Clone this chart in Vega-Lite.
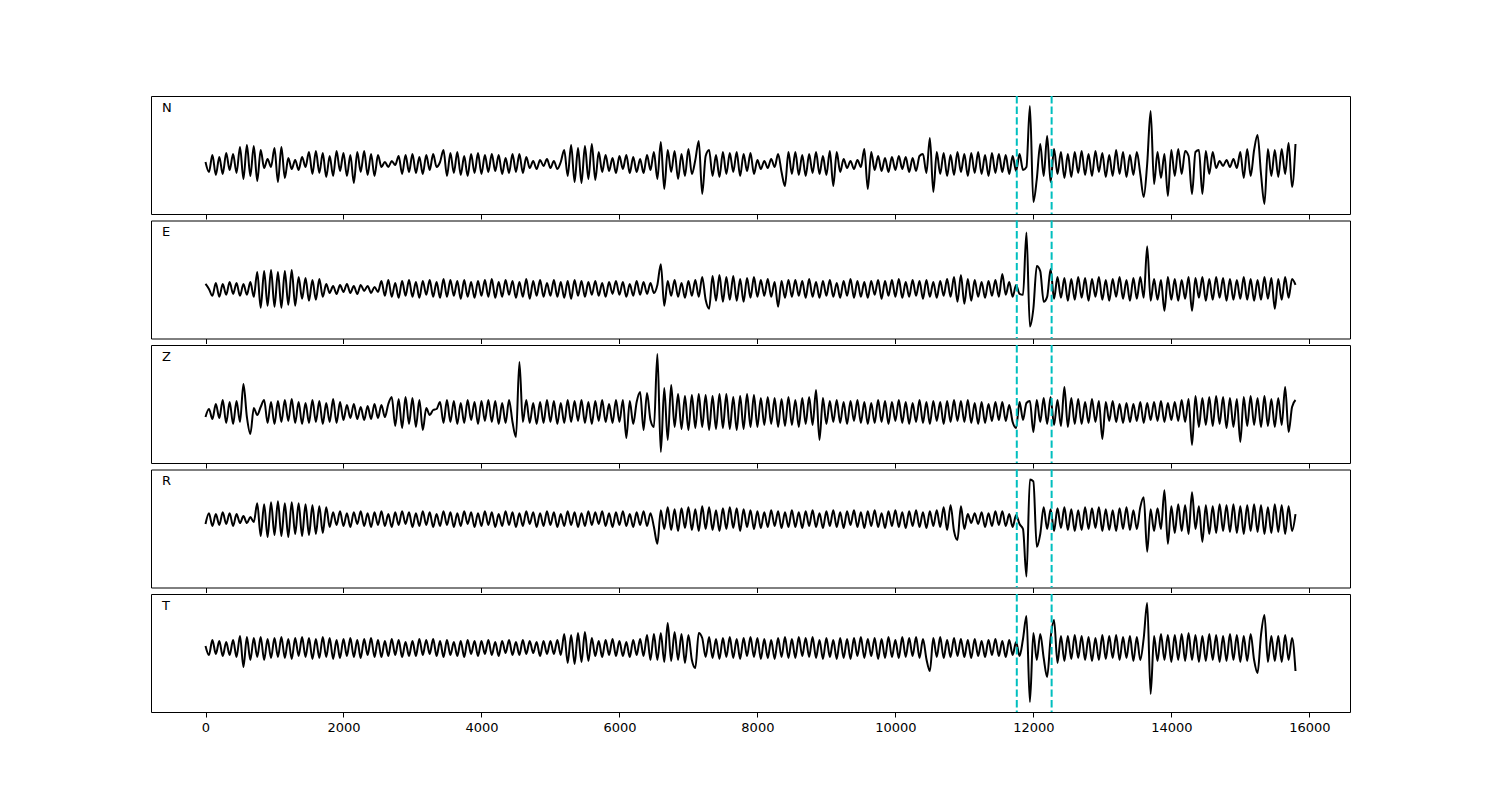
{
"$schema": "https://vega.github.io/schema/vega-lite/v6.json",
"padding": {"left": 150, "top": 94, "right": 0, "bottom": 0},
"background": "white",
"bounds": "flush",
"spacing": 6.5,
"config": {"font": "DejaVu Sans", "view": {"stroke": "black", "strokeWidth": 1}, "axis": {"grid": false, "domain": false}},
"datasets": {
"picks": [{"t": 11760}, {"t": 12265}],
"w": [
{"x":0,"N":2,"E":5,"Z":-5,"R":-5,"T":2},
{"x":50,"N":-8,"E":0,"Z":3,"R":6,"T":-7},
{"x":100,"N":9,"E":-7,"Z":-7,"R":-7,"T":8},
{"x":150,"N":-11,"E":6,"Z":8,"R":5,"T":-6},
{"x":200,"N":7,"E":-8,"Z":-6,"R":-6,"T":7},
{"x":250,"N":-10,"E":5,"Z":12,"R":7,"T":-8},
{"x":300,"N":11,"E":-6,"Z":-11,"R":-5,"T":6},
{"x":350,"N":-6,"E":7,"Z":10,"R":6,"T":-7},
{"x":400,"N":10,"E":-5,"Z":-12,"R":-7,"T":8},
{"x":450,"N":-9,"E":6,"Z":11,"R":5,"T":-9},
{"x":500,"N":17,"E":-7,"Z":-10,"R":-4,"T":12},
{"x":550,"N":-15,"E":5,"Z":28,"R":3,"T":-19},
{"x":600,"N":19,"E":-6,"Z":-5,"R":-4,"T":11},
{"x":650,"N":-12,"E":7,"Z":-22,"R":2,"T":-12},
{"x":700,"N":18,"E":-8,"Z":4,"R":-3,"T":10},
{"x":750,"N":-17,"E":17,"Z":-3,"R":16,"T":-9},
{"x":800,"N":14,"E":-19,"Z":5,"R":-17,"T":11},
{"x":850,"N":-4,"E":18,"Z":12,"R":15,"T":-12},
{"x":900,"N":5,"E":-17,"Z":-11,"R":-18,"T":9},
{"x":950,"N":-3,"E":19,"Z":10,"R":17,"T":-10},
{"x":1000,"N":16,"E":-18,"Z":-12,"R":-16,"T":10},
{"x":1050,"N":-18,"E":17,"Z":11,"R":18,"T":-9},
{"x":1100,"N":17,"E":-19,"Z":-10,"R":-17,"T":11},
{"x":1150,"N":-14,"E":18,"Z":12,"R":16,"T":-10},
{"x":1200,"N":6,"E":-16,"Z":-9,"R":-18,"T":9},
{"x":1250,"N":-5,"E":19,"Z":13,"R":17,"T":-11},
{"x":1300,"N":4,"E":-17,"Z":-11,"R":-15,"T":10},
{"x":1350,"N":-6,"E":12,"Z":10,"R":16,"T":-8},
{"x":1400,"N":7,"E":-10,"Z":-12,"R":-17,"T":11},
{"x":1450,"N":-3,"E":11,"Z":9,"R":15,"T":-9},
{"x":1500,"N":12,"E":-12,"Z":-11,"R":-16,"T":10},
{"x":1550,"N":-10,"E":9,"Z":12,"R":14,"T":-11},
{"x":1600,"N":13,"E":-11,"Z":-10,"R":-15,"T":9},
{"x":1650,"N":-9,"E":10,"Z":11,"R":13,"T":-10},
{"x":1700,"N":11,"E":-8,"Z":-12,"R":-14,"T":11},
{"x":1750,"N":-13,"E":5,"Z":9,"R":12,"T":-9},
{"x":1800,"N":8,"E":-4,"Z":-10,"R":-8,"T":10},
{"x":1850,"N":-12,"E":3,"Z":13,"R":7,"T":-11},
{"x":1900,"N":13,"E":-5,"Z":-11,"R":-6,"T":8},
{"x":1950,"N":-7,"E":4,"Z":10,"R":8,"T":-10},
{"x":2000,"N":11,"E":-3,"Z":-8,"R":-7,"T":9},
{"x":2050,"N":-12,"E":5,"Z":7,"R":6,"T":-8},
{"x":2100,"N":9,"E":-4,"Z":-6,"R":-8,"T":10},
{"x":2150,"N":-19,"E":3,"Z":8,"R":7,"T":-9},
{"x":2200,"N":12,"E":-5,"Z":-7,"R":-5,"T":8},
{"x":2250,"N":-8,"E":4,"Z":5,"R":8,"T":-10},
{"x":2300,"N":13,"E":-2,"Z":-8,"R":-7,"T":9},
{"x":2350,"N":-11,"E":3,"Z":6,"R":6,"T":-7},
{"x":2400,"N":10,"E":-4,"Z":-7,"R":-8,"T":10},
{"x":2450,"N":-12,"E":2,"Z":8,"R":7,"T":-9},
{"x":2500,"N":9,"E":-3,"Z":-6,"R":-6,"T":8},
{"x":2550,"N":-3,"E":8,"Z":7,"R":8,"T":-9},
{"x":2600,"N":2,"E":-7,"Z":-5,"R":-7,"T":7},
{"x":2650,"N":-3,"E":9,"Z":8,"R":5,"T":-8},
{"x":2700,"N":3,"E":-8,"Z":15,"R":-8,"T":9},
{"x":2750,"N":-1,"E":6,"Z":-14,"R":7,"T":-7},
{"x":2800,"N":8,"E":-9,"Z":13,"R":-6,"T":8},
{"x":2850,"N":-10,"E":8,"Z":-16,"R":8,"T":-9},
{"x":2900,"N":9,"E":-7,"Z":15,"R":-5,"T":6},
{"x":2950,"N":-8,"E":9,"Z":-12,"R":7,"T":-8},
{"x":3000,"N":10,"E":-8,"Z":14,"R":-8,"T":7},
{"x":3050,"N":-9,"E":7,"Z":-15,"R":6,"T":-8},
{"x":3100,"N":7,"E":-9,"Z":12,"R":-7,"T":9},
{"x":3150,"N":-10,"E":8,"Z":-18,"R":8,"T":-7},
{"x":3200,"N":9,"E":-6,"Z":4,"R":-6,"T":8},
{"x":3250,"N":-6,"E":9,"Z":-3,"R":7,"T":-6},
{"x":3300,"N":10,"E":-8,"Z":2,"R":-8,"T":9},
{"x":3350,"N":-3,"E":7,"Z":3,"R":5,"T":-8},
{"x":3400,"N":2,"E":-9,"Z":10,"R":-7,"T":7},
{"x":3450,"N":14,"E":10,"Z":-11,"R":8,"T":-9},
{"x":3500,"N":-12,"E":-8,"Z":12,"R":-6,"T":8},
{"x":3550,"N":11,"E":9,"Z":-10,"R":7,"T":-7},
{"x":3600,"N":-9,"E":-7,"Z":11,"R":-8,"T":6},
{"x":3650,"N":12,"E":8,"Z":-12,"R":6,"T":-8},
{"x":3700,"N":-11,"E":-10,"Z":9,"R":-7,"T":7},
{"x":3750,"N":8,"E":9,"Z":-11,"R":8,"T":-9},
{"x":3800,"N":-12,"E":-8,"Z":12,"R":-5,"T":8},
{"x":3850,"N":10,"E":7,"Z":-8,"R":7,"T":-6},
{"x":3900,"N":-9,"E":-9,"Z":10,"R":-8,"T":7},
{"x":3950,"N":11,"E":8,"Z":-12,"R":6,"T":-8},
{"x":4000,"N":-10,"E":-7,"Z":11,"R":-7,"T":7},
{"x":4050,"N":9,"E":9,"Z":-9,"R":8,"T":-6},
{"x":4100,"N":-8,"E":-8,"Z":12,"R":-6,"T":8},
{"x":4150,"N":10,"E":10,"Z":-10,"R":7,"T":-7},
{"x":4200,"N":-7,"E":-9,"Z":11,"R":-8,"T":6},
{"x":4250,"N":9,"E":7,"Z":-12,"R":5,"T":-8},
{"x":4300,"N":-10,"E":-8,"Z":9,"R":-7,"T":7},
{"x":4350,"N":6,"E":9,"Z":-11,"R":8,"T":-5},
{"x":4400,"N":-9,"E":-6,"Z":12,"R":-6,"T":8},
{"x":4450,"N":10,"E":8,"Z":-10,"R":7,"T":-7},
{"x":4500,"N":-8,"E":-9,"Z":-25,"R":-8,"T":6},
{"x":4550,"N":10,"E":7,"Z":50,"R":6,"T":-7},
{"x":4600,"N":-9,"E":-8,"Z":-10,"R":-7,"T":8},
{"x":4650,"N":7,"E":10,"Z":12,"R":8,"T":-6},
{"x":4700,"N":-4,"E":-10,"Z":-11,"R":-5,"T":7},
{"x":4750,"N":3,"E":8,"Z":9,"R":7,"T":-5},
{"x":4800,"N":-5,"E":-7,"Z":-12,"R":-8,"T":6},
{"x":4850,"N":4,"E":9,"Z":10,"R":6,"T":-8},
{"x":4900,"N":-2,"E":-8,"Z":-11,"R":-7,"T":7},
{"x":4950,"N":5,"E":6,"Z":12,"R":8,"T":-6},
{"x":5000,"N":-4,"E":-7,"Z":-10,"R":-6,"T":7},
{"x":5050,"N":3,"E":9,"Z":11,"R":7,"T":-6},
{"x":5100,"N":-5,"E":-8,"Z":-12,"R":-8,"T":8},
{"x":5150,"N":2,"E":7,"Z":9,"R":5,"T":-7},
{"x":5200,"N":14,"E":-9,"Z":-11,"R":-7,"T":14},
{"x":5250,"N":-12,"E":8,"Z":12,"R":8,"T":-15},
{"x":5300,"N":19,"E":-10,"Z":-10,"R":-6,"T":13},
{"x":5350,"N":-18,"E":9,"Z":11,"R":7,"T":-16},
{"x":5400,"N":16,"E":-7,"Z":-9,"R":-8,"T":15},
{"x":5450,"N":-19,"E":8,"Z":12,"R":6,"T":-14},
{"x":5500,"N":18,"E":-8,"Z":-11,"R":-7,"T":16},
{"x":5550,"N":-15,"E":7,"Z":10,"R":8,"T":-13},
{"x":5600,"N":20,"E":-6,"Z":-12,"R":-6,"T":10},
{"x":5650,"N":-16,"E":8,"Z":11,"R":7,"T":-8},
{"x":5700,"N":12,"E":-7,"Z":-9,"R":-5,"T":7},
{"x":5750,"N":-8,"E":6,"Z":12,"R":8,"T":-9},
{"x":5800,"N":9,"E":-8,"Z":-10,"R":-7,"T":8},
{"x":5850,"N":-7,"E":7,"Z":8,"R":6,"T":-7},
{"x":5900,"N":6,"E":-5,"Z":-11,"R":-8,"T":9},
{"x":5950,"N":-9,"E":8,"Z":12,"R":7,"T":-8},
{"x":6000,"N":8,"E":-6,"Z":-10,"R":-6,"T":7},
{"x":6050,"N":-5,"E":7,"Z":12,"R":8,"T":-8},
{"x":6100,"N":9,"E":-8,"Z":-26,"R":-7,"T":6},
{"x":6150,"N":-9,"E":5,"Z":11,"R":5,"T":-9},
{"x":6200,"N":7,"E":-7,"Z":-12,"R":-8,"T":8},
{"x":6250,"N":-8,"E":8,"Z":10,"R":7,"T":-7},
{"x":6300,"N":5,"E":-6,"Z":20,"R":-6,"T":9},
{"x":6350,"N":-9,"E":7,"Z":-18,"R":8,"T":-8},
{"x":6400,"N":9,"E":-5,"Z":19,"R":-7,"T":13},
{"x":6450,"N":-6,"E":6,"Z":-8,"R":6,"T":-12},
{"x":6500,"N":12,"E":-4,"Z":-15,"R":-8,"T":14},
{"x":6550,"N":-15,"E":4,"Z":58,"R":-25,"T":-12},
{"x":6600,"N":22,"E":25,"Z":-40,"R":9,"T":15},
{"x":6650,"N":-25,"E":-17,"Z":24,"R":-10,"T":-14},
{"x":6700,"N":14,"E":8,"Z":-28,"R":12,"T":25},
{"x":6750,"N":-8,"E":-7,"Z":27,"R":-11,"T":-13},
{"x":6800,"N":13,"E":9,"Z":-15,"R":10,"T":16},
{"x":6850,"N":-15,"E":-8,"Z":18,"R":-12,"T":-12},
{"x":6900,"N":10,"E":6,"Z":-17,"R":11,"T":14},
{"x":6950,"N":-12,"E":-9,"Z":16,"R":-9,"T":-15},
{"x":7000,"N":15,"E":8,"Z":-18,"R":12,"T":13},
{"x":7050,"N":-10,"E":-7,"Z":17,"R":-11,"T":-12},
{"x":7100,"N":4,"E":9,"Z":-16,"R":10,"T":-20},
{"x":7150,"N":23,"E":-8,"Z":18,"R":-12,"T":15},
{"x":7200,"N":-30,"E":12,"Z":-15,"R":13,"T":10},
{"x":7250,"N":8,"E":-11,"Z":17,"R":-10,"T":-9},
{"x":7300,"N":14,"E":-20,"Z":-18,"R":12,"T":11},
{"x":7350,"N":-12,"E":13,"Z":16,"R":-11,"T":-10},
{"x":7400,"N":9,"E":-12,"Z":-17,"R":9,"T":9},
{"x":7450,"N":-13,"E":14,"Z":18,"R":-12,"T":-11},
{"x":7500,"N":12,"E":-13,"Z":-16,"R":11,"T":10},
{"x":7550,"N":-10,"E":12,"Z":18,"R":-10,"T":-9},
{"x":7600,"N":11,"E":-11,"Z":-17,"R":12,"T":11},
{"x":7650,"N":-8,"E":13,"Z":15,"R":-9,"T":-10},
{"x":7700,"N":12,"E":-12,"Z":-18,"R":11,"T":9},
{"x":7750,"N":-12,"E":10,"Z":16,"R":-12,"T":-11},
{"x":7800,"N":10,"E":-13,"Z":-17,"R":10,"T":10},
{"x":7850,"N":-7,"E":11,"Z":18,"R":-8,"T":-8},
{"x":7900,"N":11,"E":-9,"Z":-15,"R":9,"T":11},
{"x":7950,"N":-10,"E":12,"Z":17,"R":-10,"T":-9},
{"x":8000,"N":4,"E":-8,"Z":-15,"R":8,"T":10},
{"x":8050,"N":-5,"E":9,"Z":14,"R":-9,"T":-11},
{"x":8100,"N":3,"E":-7,"Z":-13,"R":7,"T":9},
{"x":8150,"N":-4,"E":10,"Z":15,"R":-8,"T":-10},
{"x":8200,"N":5,"E":-8,"Z":-12,"R":9,"T":8},
{"x":8250,"N":-3,"E":7,"Z":14,"R":-7,"T":-11},
{"x":8300,"N":10,"E":-18,"Z":-15,"R":8,"T":10},
{"x":8350,"N":-8,"E":8,"Z":13,"R":-9,"T":-9},
{"x":8400,"N":-22,"E":-9,"Z":-14,"R":7,"T":11},
{"x":8450,"N":12,"E":9,"Z":15,"R":-8,"T":-10},
{"x":8500,"N":-10,"E":-8,"Z":-13,"R":9,"T":9},
{"x":8550,"N":12,"E":9,"Z":12,"R":-8,"T":-10},
{"x":8600,"N":-11,"E":-7,"Z":-15,"R":7,"T":11},
{"x":8650,"N":9,"E":8,"Z":14,"R":-9,"T":-8},
{"x":8700,"N":-12,"E":-9,"Z":-12,"R":8,"T":10},
{"x":8750,"N":10,"E":10,"Z":15,"R":-7,"T":-9},
{"x":8800,"N":-9,"E":-8,"Z":-13,"R":9,"T":11},
{"x":8850,"N":12,"E":7,"Z":22,"R":-8,"T":-10},
{"x":8900,"N":-10,"E":-9,"Z":-28,"R":6,"T":8},
{"x":8950,"N":8,"E":8,"Z":14,"R":-9,"T":-11},
{"x":9000,"N":-11,"E":-7,"Z":-12,"R":8,"T":10},
{"x":9050,"N":13,"E":9,"Z":11,"R":-7,"T":-9},
{"x":9100,"N":-22,"E":-8,"Z":-10,"R":9,"T":8},
{"x":9150,"N":12,"E":6,"Z":12,"R":-8,"T":-11},
{"x":9200,"N":-8,"E":-9,"Z":-11,"R":7,"T":10},
{"x":9250,"N":5,"E":8,"Z":10,"R":-9,"T":-10},
{"x":9300,"N":-4,"E":-7,"Z":-12,"R":8,"T":9},
{"x":9350,"N":3,"E":10,"Z":11,"R":-6,"T":-11},
{"x":9400,"N":-5,"E":-9,"Z":-9,"R":9,"T":10},
{"x":9450,"N":4,"E":8,"Z":12,"R":-8,"T":-8},
{"x":9500,"N":-3,"E":-8,"Z":-11,"R":7,"T":11},
{"x":9550,"N":15,"E":7,"Z":10,"R":-9,"T":-10},
{"x":9600,"N":-25,"E":-9,"Z":-12,"R":8,"T":9},
{"x":9650,"N":12,"E":8,"Z":9,"R":-7,"T":-8},
{"x":9700,"N":-6,"E":-6,"Z":-11,"R":9,"T":10},
{"x":9750,"N":8,"E":9,"Z":12,"R":-8,"T":-11},
{"x":9800,"N":-7,"E":-10,"Z":-10,"R":6,"T":9},
{"x":9850,"N":6,"E":8,"Z":11,"R":-9,"T":-10},
{"x":9900,"N":-8,"E":-7,"Z":-12,"R":8,"T":11},
{"x":9950,"N":7,"E":9,"Z":10,"R":-7,"T":-9},
{"x":10000,"N":-6,"E":-8,"Z":-9,"R":9,"T":8},
{"x":10050,"N":8,"E":10,"Z":12,"R":-8,"T":-10},
{"x":10100,"N":-5,"E":-9,"Z":-11,"R":7,"T":11},
{"x":10150,"N":7,"E":7,"Z":10,"R":-9,"T":-9},
{"x":10200,"N":-8,"E":-8,"Z":-12,"R":8,"T":10},
{"x":10250,"N":6,"E":9,"Z":9,"R":-7,"T":-8},
{"x":10300,"N":-7,"E":-7,"Z":-10,"R":9,"T":11},
{"x":10350,"N":8,"E":8,"Z":12,"R":-8,"T":-10},
{"x":10400,"N":10,"E":-10,"Z":-11,"R":7,"T":9},
{"x":10450,"N":-9,"E":9,"Z":10,"R":-9,"T":-11},
{"x":10500,"N":26,"E":-8,"Z":-12,"R":8,"T":-23},
{"x":10550,"N":-28,"E":7,"Z":11,"R":-7,"T":10},
{"x":10600,"N":12,"E":-9,"Z":-9,"R":9,"T":-9},
{"x":10650,"N":-10,"E":8,"Z":10,"R":-8,"T":11},
{"x":10700,"N":11,"E":-7,"Z":-12,"R":12,"T":-10},
{"x":10750,"N":-12,"E":10,"Z":11,"R":-11,"T":8},
{"x":10800,"N":9,"E":-8,"Z":-10,"R":14,"T":-9},
{"x":10850,"N":-11,"E":12,"Z":12,"R":-12,"T":10},
{"x":10900,"N":12,"E":-13,"Z":-9,"R":-21,"T":-8},
{"x":10950,"N":-8,"E":14,"Z":11,"R":13,"T":9},
{"x":11000,"N":10,"E":-15,"Z":-10,"R":-10,"T":-9},
{"x":11050,"N":-12,"E":10,"Z":12,"R":5,"T":8},
{"x":11100,"N":11,"E":-12,"Z":-11,"R":-4,"T":-10},
{"x":11150,"N":-9,"E":9,"Z":9,"R":6,"T":9},
{"x":11200,"N":12,"E":-8,"Z":-12,"R":-5,"T":-8},
{"x":11250,"N":-10,"E":7,"Z":10,"R":7,"T":7},
{"x":11300,"N":9,"E":-9,"Z":-11,"R":-8,"T":-9},
{"x":11350,"N":-12,"E":8,"Z":8,"R":6,"T":8},
{"x":11400,"N":11,"E":-7,"Z":-9,"R":-7,"T":-7},
{"x":11450,"N":-9,"E":9,"Z":10,"R":8,"T":9},
{"x":11500,"N":10,"E":-8,"Z":-8,"R":-6,"T":-8},
{"x":11550,"N":-8,"E":15,"Z":10,"R":8,"T":7},
{"x":11600,"N":9,"E":-6,"Z":-9,"R":-7,"T":-9},
{"x":11650,"N":-10,"E":7,"Z":7,"R":5,"T":8},
{"x":11700,"N":8,"E":-8,"Z":-10,"R":-8,"T":-7},
{"x":11750,"N":-7,"E":4,"Z":-16,"R":4,"T":6},
{"x":11800,"N":10,"E":-5,"Z":10,"R":-5,"T":-8},
{"x":11850,"N":-6,"E":-6,"Z":-8,"R":-10,"T":9},
{"x":11900,"N":-3,"E":57,"Z":9,"R":-58,"T":32},
{"x":11950,"N":58,"E":-38,"Z":11,"R":40,"T":-54},
{"x":12000,"N":-38,"E":-20,"Z":-20,"R":38,"T":15},
{"x":12050,"N":-15,"E":23,"Z":12,"R":-28,"T":-12},
{"x":12100,"N":20,"E":18,"Z":-10,"R":-15,"T":14},
{"x":12150,"N":-12,"E":-13,"Z":14,"R":12,"T":-10},
{"x":12200,"N":28,"E":-8,"Z":-12,"R":-10,"T":-29},
{"x":12250,"N":-18,"E":20,"Z":15,"R":10,"T":10},
{"x":12300,"N":15,"E":-10,"Z":-13,"R":-12,"T":28},
{"x":12350,"N":-10,"E":12,"Z":12,"R":11,"T":-15},
{"x":12400,"N":12,"E":-9,"Z":-14,"R":-9,"T":12},
{"x":12450,"N":-14,"E":11,"Z":25,"R":12,"T":-13},
{"x":12500,"N":10,"E":-12,"Z":-15,"R":-11,"T":12},
{"x":12550,"N":-13,"E":10,"Z":14,"R":10,"T":-11},
{"x":12600,"N":12,"E":-11,"Z":-12,"R":-12,"T":13},
{"x":12650,"N":-9,"E":12,"Z":13,"R":9,"T":-10},
{"x":12700,"N":13,"E":-9,"Z":-12,"R":-11,"T":12},
{"x":12750,"N":-11,"E":11,"Z":10,"R":12,"T":-12},
{"x":12800,"N":10,"E":-12,"Z":-11,"R":-10,"T":11},
{"x":12850,"N":-12,"E":10,"Z":13,"R":11,"T":-13},
{"x":12900,"N":13,"E":-8,"Z":-10,"R":-9,"T":10},
{"x":12950,"N":-8,"E":12,"Z":11,"R":12,"T":-12},
{"x":13000,"N":11,"E":-11,"Z":-27,"R":-12,"T":13},
{"x":13050,"N":-13,"E":9,"Z":10,"R":10,"T":-11},
{"x":13100,"N":9,"E":-12,"Z":-9,"R":-11,"T":12},
{"x":13150,"N":-12,"E":10,"Z":11,"R":9,"T":-10},
{"x":13200,"N":14,"E":-8,"Z":-10,"R":-12,"T":13},
{"x":13250,"N":-10,"E":12,"Z":8,"R":11,"T":-12},
{"x":13300,"N":12,"E":-10,"Z":-11,"R":-10,"T":11},
{"x":13350,"N":-13,"E":9,"Z":9,"R":12,"T":-10},
{"x":13400,"N":9,"E":-12,"Z":-10,"R":-11,"T":12},
{"x":13450,"N":-11,"E":11,"Z":8,"R":9,"T":-13},
{"x":13500,"N":12,"E":-10,"Z":-9,"R":-10,"T":11},
{"x":13550,"N":-10,"E":12,"Z":10,"R":12,"T":-12},
{"x":13600,"N":-33,"E":-9,"Z":-11,"R":22,"T":10},
{"x":13650,"N":0,"E":43,"Z":9,"R":-33,"T":45},
{"x":13700,"N":53,"E":-12,"Z":-8,"R":10,"T":-46},
{"x":13750,"N":-20,"E":10,"Z":10,"R":-12,"T":12},
{"x":13800,"N":12,"E":-11,"Z":-9,"R":11,"T":-13},
{"x":13850,"N":-14,"E":9,"Z":11,"R":-10,"T":14},
{"x":13900,"N":10,"E":-22,"Z":-10,"R":29,"T":-12},
{"x":13950,"N":-32,"E":12,"Z":9,"R":-25,"T":13},
{"x":14000,"N":14,"E":-11,"Z":-8,"R":13,"T":-14},
{"x":14050,"N":-12,"E":10,"Z":10,"R":-14,"T":13},
{"x":14100,"N":15,"E":-12,"Z":-9,"R":15,"T":-12},
{"x":14150,"N":-10,"E":9,"Z":12,"R":-12,"T":14},
{"x":14200,"N":13,"E":-10,"Z":-10,"R":14,"T":-13},
{"x":14250,"N":8,"E":12,"Z":13,"R":-15,"T":15},
{"x":14300,"N":-30,"E":-22,"Z":-33,"R":27,"T":-12},
{"x":14350,"N":12,"E":11,"Z":16,"R":-10,"T":13},
{"x":14400,"N":14,"E":-9,"Z":-15,"R":13,"T":-14},
{"x":14450,"N":-30,"E":12,"Z":14,"R":-23,"T":12},
{"x":14500,"N":13,"E":-12,"Z":-13,"R":14,"T":-13},
{"x":14550,"N":-10,"E":10,"Z":15,"R":-15,"T":14},
{"x":14600,"N":12,"E":-11,"Z":-14,"R":13,"T":-12},
{"x":14650,"N":-4,"E":12,"Z":16,"R":-14,"T":13},
{"x":14700,"N":3,"E":-9,"Z":-12,"R":15,"T":-14},
{"x":14750,"N":-2,"E":11,"Z":15,"R":-12,"T":12},
{"x":14800,"N":4,"E":-12,"Z":-16,"R":14,"T":-13},
{"x":14850,"N":-3,"E":10,"Z":14,"R":-13,"T":14},
{"x":14900,"N":5,"E":-11,"Z":-15,"R":15,"T":-12},
{"x":14950,"N":-4,"E":9,"Z":13,"R":-14,"T":13},
{"x":15000,"N":12,"E":-10,"Z":-30,"R":13,"T":-14},
{"x":15050,"N":-14,"E":12,"Z":15,"R":-15,"T":12},
{"x":15100,"N":15,"E":-11,"Z":-14,"R":14,"T":-13},
{"x":15150,"N":-12,"E":10,"Z":16,"R":-12,"T":14},
{"x":15200,"N":14,"E":-12,"Z":-13,"R":15,"T":-12},
{"x":15250,"N":29,"E":9,"Z":14,"R":-13,"T":-25},
{"x":15300,"N":-10,"E":-11,"Z":-15,"R":14,"T":13},
{"x":15350,"N":-40,"E":12,"Z":16,"R":-15,"T":33},
{"x":15400,"N":15,"E":-10,"Z":-14,"R":12,"T":-14},
{"x":15450,"N":-12,"E":11,"Z":13,"R":-14,"T":12},
{"x":15500,"N":14,"E":-20,"Z":-15,"R":15,"T":-13},
{"x":15550,"N":-13,"E":10,"Z":14,"R":-13,"T":12},
{"x":15600,"N":15,"E":-11,"Z":-13,"R":14,"T":-14},
{"x":15650,"N":-10,"E":12,"Z":25,"R":-15,"T":13},
{"x":15700,"N":21,"E":-9,"Z":-20,"R":13,"T":-12},
{"x":15750,"N":-23,"E":10,"Z":5,"R":-12,"T":10},
{"x":15800,"N":20,"E":4,"Z":12,"R":5,"T":-23}
]
},
"vconcat": [
{
"width": 1199, "height": 118,
"layer": [
{"data": {"name": "w"}, "mark": {"type": "line", "color": "black", "strokeWidth": 2, "clip": true, "interpolate": "monotone"},
 "encoding": {
  "x": {"field": "x", "type": "quantitative", "title": null, "scale": {"domain": [-790, 16590], "nice": false, "zero": false}, "axis": {"values": [0,2000,4000,6000,8000,10000,12000,14000,16000], "labels": false, "ticks": true, "tickSize": 5, "tickColor": "black", "tickWidth": 1, "domain": false, "title": null}},
  "y": {"field": "N", "type": "quantitative", "title": null, "scale": {"domain": [-50, 68], "nice": false, "zero": false}, "axis": null}}},
{"data": {"name": "picks"}, "mark": {"type": "rule", "color": "#00bfbf", "strokeWidth": 2, "strokeDash": [7.4, 3.2]},
 "encoding": {"x": {"field": "t", "type": "quantitative", "title": null, "scale": {"domain": [-790, 16590], "nice": false, "zero": false}, "axis": {"values": [0,2000,4000,6000,8000,10000,12000,14000,16000], "labels": false, "ticks": true, "tickSize": 5, "tickColor": "black", "tickWidth": 1, "domain": false, "title": null}}}},
{"data": {"values": [{"lab": "N"}]}, "mark": {"type": "text", "align": "left", "baseline": "middle", "fontSize": 13, "color": "black"},
 "encoding": {"x": {"datum": -630, "type": "quantitative"}, "y": {"datum": 56, "type": "quantitative", "axis": null}, "text": {"field": "lab"}}}
]
},
{
"width": 1199, "height": 118,
"layer": [
{"data": {"name": "w"}, "mark": {"type": "line", "color": "black", "strokeWidth": 2, "clip": true, "interpolate": "monotone"},
 "encoding": {
  "x": {"field": "x", "type": "quantitative", "title": null, "scale": {"domain": [-790, 16590], "nice": false, "zero": false}, "axis": {"values": [0,2000,4000,6000,8000,10000,12000,14000,16000], "labels": false, "ticks": true, "tickSize": 5, "tickColor": "black", "tickWidth": 1, "domain": false, "title": null}},
  "y": {"field": "E", "type": "quantitative", "title": null, "scale": {"domain": [-50, 69], "nice": false, "zero": false}, "axis": null}}},
{"data": {"name": "picks"}, "mark": {"type": "rule", "color": "#00bfbf", "strokeWidth": 2, "strokeDash": [7.4, 3.2]},
 "encoding": {"x": {"field": "t", "type": "quantitative", "title": null, "scale": {"domain": [-790, 16590], "nice": false, "zero": false}, "axis": {"values": [0,2000,4000,6000,8000,10000,12000,14000,16000], "labels": false, "ticks": true, "tickSize": 5, "tickColor": "black", "tickWidth": 1, "domain": false, "title": null}}}},
{"data": {"values": [{"lab": "E"}]}, "mark": {"type": "text", "align": "left", "baseline": "middle", "fontSize": 13, "color": "black"},
 "encoding": {"x": {"datum": -630, "type": "quantitative"}, "y": {"datum": 57, "type": "quantitative", "axis": null}, "text": {"field": "lab"}}}
]
},
{
"width": 1199, "height": 118,
"layer": [
{"data": {"name": "w"}, "mark": {"type": "line", "color": "black", "strokeWidth": 2, "clip": true, "interpolate": "monotone"},
 "encoding": {
  "x": {"field": "x", "type": "quantitative", "title": null, "scale": {"domain": [-790, 16590], "nice": false, "zero": false}, "axis": {"values": [0,2000,4000,6000,8000,10000,12000,14000,16000], "labels": false, "ticks": true, "tickSize": 5, "tickColor": "black", "tickWidth": 1, "domain": false, "title": null}},
  "y": {"field": "Z", "type": "quantitative", "title": null, "scale": {"domain": [-51, 67], "nice": false, "zero": false}, "axis": null}}},
{"data": {"name": "picks"}, "mark": {"type": "rule", "color": "#00bfbf", "strokeWidth": 2, "strokeDash": [7.4, 3.2]},
 "encoding": {"x": {"field": "t", "type": "quantitative", "title": null, "scale": {"domain": [-790, 16590], "nice": false, "zero": false}, "axis": {"values": [0,2000,4000,6000,8000,10000,12000,14000,16000], "labels": false, "ticks": true, "tickSize": 5, "tickColor": "black", "tickWidth": 1, "domain": false, "title": null}}}},
{"data": {"values": [{"lab": "Z"}]}, "mark": {"type": "text", "align": "left", "baseline": "middle", "fontSize": 13, "color": "black"},
 "encoding": {"x": {"datum": -630, "type": "quantitative"}, "y": {"datum": 55, "type": "quantitative", "axis": null}, "text": {"field": "lab"}}}
]
},
{
"width": 1199, "height": 118,
"layer": [
{"data": {"name": "w"}, "mark": {"type": "line", "color": "black", "strokeWidth": 2, "clip": true, "interpolate": "monotone"},
 "encoding": {
  "x": {"field": "x", "type": "quantitative", "title": null, "scale": {"domain": [-790, 16590], "nice": false, "zero": false}, "axis": {"values": [0,2000,4000,6000,8000,10000,12000,14000,16000], "labels": false, "ticks": true, "tickSize": 5, "tickColor": "black", "tickWidth": 1, "domain": false, "title": null}},
  "y": {"field": "R", "type": "quantitative", "title": null, "scale": {"domain": [-69, 50], "nice": false, "zero": false}, "axis": null}}},
{"data": {"name": "picks"}, "mark": {"type": "rule", "color": "#00bfbf", "strokeWidth": 2, "strokeDash": [7.4, 3.2]},
 "encoding": {"x": {"field": "t", "type": "quantitative", "title": null, "scale": {"domain": [-790, 16590], "nice": false, "zero": false}, "axis": {"values": [0,2000,4000,6000,8000,10000,12000,14000,16000], "labels": false, "ticks": true, "tickSize": 5, "tickColor": "black", "tickWidth": 1, "domain": false, "title": null}}}},
{"data": {"values": [{"lab": "R"}]}, "mark": {"type": "text", "align": "left", "baseline": "middle", "fontSize": 13, "color": "black"},
 "encoding": {"x": {"datum": -630, "type": "quantitative"}, "y": {"datum": 38, "type": "quantitative", "axis": null}, "text": {"field": "lab"}}}
]
},
{
"width": 1199, "height": 118,
"layer": [
{"data": {"name": "w"}, "mark": {"type": "line", "color": "black", "strokeWidth": 2, "clip": true, "interpolate": "monotone"},
 "encoding": {
  "x": {"field": "x", "type": "quantitative", "title": null, "scale": {"domain": [-790, 16590], "nice": false, "zero": false}, "axis": {"values": [0,2000,4000,6000,8000,10000,12000,14000,16000], "format": "d", "labels": true, "labelFontSize": 13, "labelColor": "black", "labelFont": "DejaVu Sans", "labelPadding": 4, "ticks": true, "tickSize": 5, "tickColor": "black", "tickWidth": 1, "domain": false, "title": null}},
  "y": {"field": "T", "type": "quantitative", "title": null, "scale": {"domain": [-64, 54], "nice": false, "zero": false}, "axis": null}}},
{"data": {"name": "picks"}, "mark": {"type": "rule", "color": "#00bfbf", "strokeWidth": 2, "strokeDash": [7.4, 3.2]},
 "encoding": {"x": {"field": "t", "type": "quantitative", "title": null, "scale": {"domain": [-790, 16590], "nice": false, "zero": false}, "axis": {"values": [0,2000,4000,6000,8000,10000,12000,14000,16000], "format": "d", "labels": true, "labelFontSize": 13, "labelColor": "black", "labelFont": "DejaVu Sans", "labelPadding": 4, "ticks": true, "tickSize": 5, "tickColor": "black", "tickWidth": 1, "domain": false, "title": null}}}},
{"data": {"values": [{"lab": "T"}]}, "mark": {"type": "text", "align": "left", "baseline": "middle", "fontSize": 13, "color": "black"},
 "encoding": {"x": {"datum": -630, "type": "quantitative"}, "y": {"datum": 42, "type": "quantitative", "axis": null}, "text": {"field": "lab"}}}
]
}
]
}
